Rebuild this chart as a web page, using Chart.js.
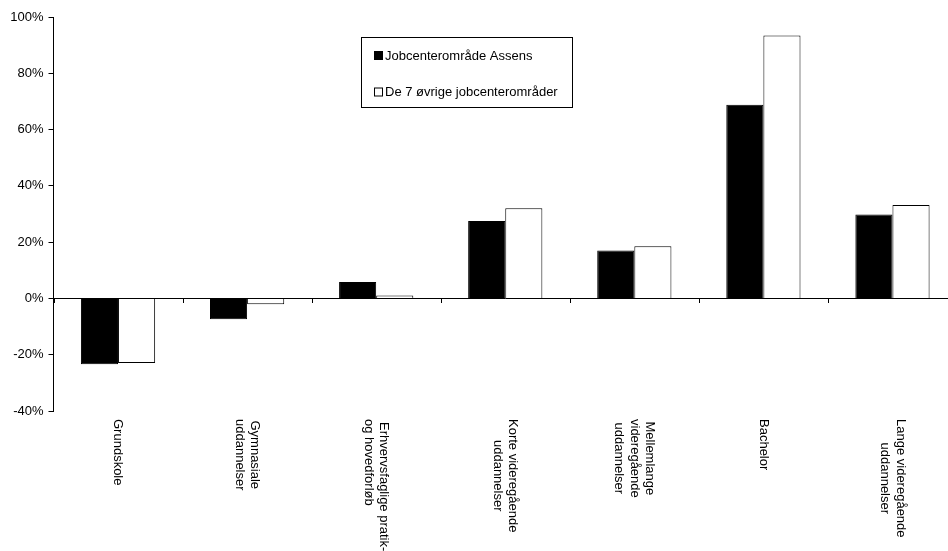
<!DOCTYPE html>
<html>
<head>
<meta charset="utf-8">
<script src="https://cdn.jsdelivr.net/npm/chart.js@4/dist/chart.umd.min.js"></script>
<style>
  html, body { margin: 0; padding: 0; background: #fff; overflow: hidden; }
  #wrap { width: 960px; height: 551px; }
</style>
</head>
<body>
<div id="wrap"><canvas id="myChart"></canvas></div>
<script>
// categories, split into lines as in the original
let categories = [
    ['Grundskole'],
    ['Gymnasiale', 'uddannelser'],
    ['Erhvervsfaglige pratik-', 'og hovedforløb'],
    ['Korte videregående', 'uddannelser'],
    ['Mellemlange', 'videregående', 'uddannelser'],
    ['Bachelor'],
    ['Lange videregående', 'uddannelser']
]
let seriesNames = ['Jobcenterområde Assens', 'De 7 øvrige jobcenterområder']
let assens = [-23.4, -7.4, 5.8, 27.5, 17.0, 68.8, 29.8]
let others = [-22.9, -2.1, 1.0, 32.0, 18.5, 93.4, 33.2]
let yTicks = [-40, -20, 0, 20, 40, 60, 80, 100]

let fontName = '"Liberation Sans", Arial, sans-serif'

// x axis drawn at 0 with tick marks + rotated labels, and the boxed legend
let customAxis = {
    id: 'customAxis',
    afterDatasetsDraw(chart){
        let ctx = chart.ctx
        let x = chart.scales.x
        let y = chart.scales.y
        let area = chart.chartArea
        let zeroY = y.getPixelForValue(0)
        let step = (area.right - area.left) / categories.length

        ctx.save()
        ctx.strokeStyle = '#000'
        ctx.lineWidth = 1
        ctx.beginPath()
        ctx.moveTo(area.left, Math.round(zeroY) + 0.5)
        ctx.lineTo(area.right, Math.round(zeroY) + 0.5)
        for (let i = 0; i <= categories.length; i++){
            let tx = Math.round(area.left + i * step) + 0.5
            ctx.moveTo(tx, Math.round(zeroY))
            ctx.lineTo(tx, Math.round(zeroY) + 5)
        }
        ctx.stroke()

        // category labels, rotated clockwise
        ctx.font = '13px ' + fontName
        ctx.fillStyle = '#000'
        ctx.textBaseline = 'middle'
        let lineHeight = 15.5
        let top = area.bottom + 8
        for (let i = 0; i < categories.length; i++){
            let lines = categories[i]
            let cx = x.getPixelForValue(i)
            let maxW = 0
            for (let j = 0; j < lines.length; j++){
                maxW = Math.max(maxW, ctx.measureText(lines[j]).width)
            }
            // labels too long for the space left are top aligned instead
            let tooLong = top + maxW > chart.height - 8
            ctx.save()
            ctx.translate(cx, top)
            ctx.rotate(Math.PI / 2)
            for (let j = 0; j < lines.length; j++){
                let off = (j - (lines.length - 1) / 2) * lineHeight
                if (tooLong){
                    ctx.textAlign = 'left'
                    ctx.fillText(lines[j], j === 0 ? 3 : 0, off)
                } else {
                    ctx.textAlign = 'center'
                    ctx.fillText(lines[j], maxW / 2, off)
                }
            }
            ctx.restore()
        }

        // legend box
        let lx = 361.5, ly = 37.5, lw = 211, lh = 70
        ctx.strokeStyle = '#000'
        ctx.strokeRect(lx, ly, lw, lh)
        let colors = ['#000', '#fff']
        let rows = [55.5, 92]
        ctx.textAlign = 'left'
        for (let i = 0; i < seriesNames.length; i++){
            ctx.fillStyle = colors[i]
            ctx.fillRect(374.5, rows[i] - 4, 8, 8)
            ctx.strokeRect(374.5, rows[i] - 4, 8, 8)
            ctx.fillStyle = '#000'
            ctx.fillText(seriesNames[i], 385, rows[i] + 0.5)
        }
        ctx.restore()
    }
}

let ctx = document.getElementById('myChart').getContext('2d')
let chart = new Chart(ctx, {
    type: 'bar',
    data: {
        labels: categories.map(c => c.join(' ')),
        datasets: [{
            label: seriesNames[0],
            data: assens,
            backgroundColor: '#000',
            borderColor: '#000',
            borderWidth: 1
        }, {
            label: seriesNames[1],
            data: others,
            backgroundColor: '#fff',
            borderColor: '#000',
            borderWidth: 1
        }]
    },
    options: {
        responsive: true,
        maintainAspectRatio: false,
        animation: false,
        devicePixelRatio: 1,
        layout: {
            padding: { top: 17, bottom: 140, right: 3, left: 0 }
        },
        datasets: {
            bar: {
                barPercentage: 1,
                categoryPercentage: 0.575
            }
        },
        plugins: {
            legend: { display: false },
            tooltip: { enabled: false }
        },
        scales: {
            x: {
                display: false
            },
            y: {
                min: yTicks[0],
                max: yTicks[yTicks.length - 1],
                afterFit(scale){
                    scale.width = 53.5
                },
                afterBuildTicks(scale){
                    scale.ticks = yTicks.map(v => ({ value: v }))
                },
                border: { display: true, color: '#000', width: 1 },
                grid: {
                    drawOnChartArea: false,
                    drawTicks: true,
                    tickLength: 5,
                    color: '#000'
                },
                ticks: {
                    color: '#000',
                    padding: 5,
                    font: { family: fontName, size: 13 },
                    callback: function(v){ return v + '%' }
                }
            }
        }
    },
    plugins: [customAxis]
})
</script>
</body>
</html>
